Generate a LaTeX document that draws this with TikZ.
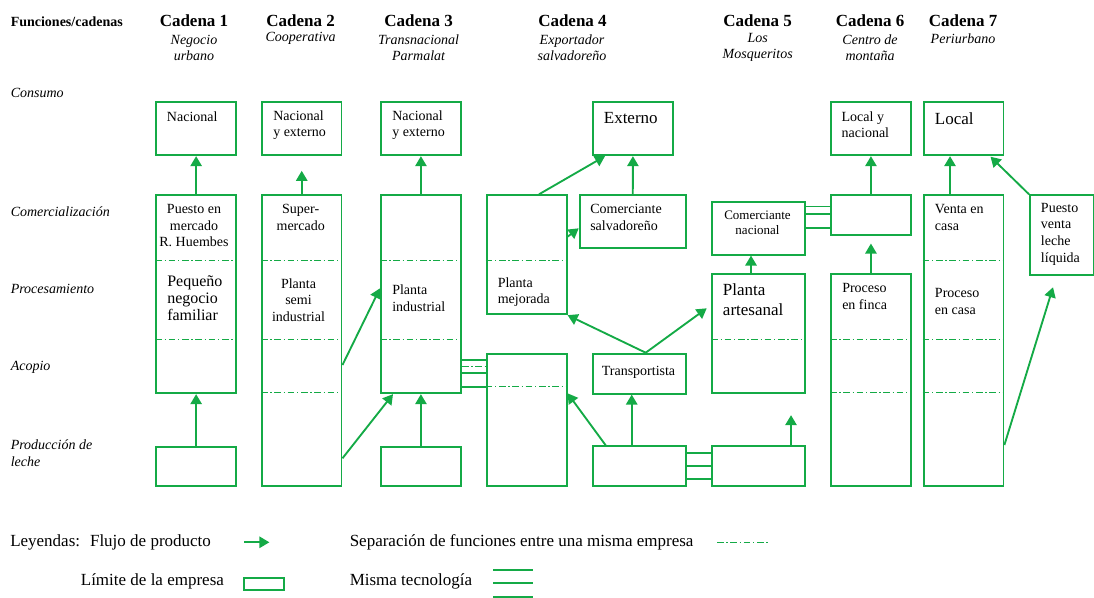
\documentclass[tikz,border=0pt]{standalone}
\usepackage{fontspec}
\setmainfont{Liberation Serif}
\usepackage{tikz}
\usetikzlibrary{positioning,arrows.meta}
\definecolor{verde}{RGB}{20,170,70}

\begin{document}
\begin{tikzpicture}[x=0.75pt,y=-0.75pt,
box/.style 2 args={draw=verde,line width=1.4pt,inner sep=0pt,anchor=north west,minimum width=#1*0.75pt,minimum height=#2*0.75pt},
txt/.style={inner sep=0pt,anchor=west,align=left,font=\fontsize{10.5}{12.5}\selectfont},
ctxt/.style={inner sep=0pt,align=center,font=\fontsize{10.5}{12.5}\selectfont},
big/.style={inner sep=0pt,anchor=west,align=left,font=\fontsize{12.75}{15}\selectfont},
cad/.style={inner sep=0pt,font=\bfseries\fontsize{12.75}{14}\selectfont},
sub/.style={inner sep=0pt,align=center,font=\itshape\fontsize{10.5}{12}\selectfont},
fila/.style={inner sep=0pt,anchor=west,align=left,font=\itshape\fontsize{10.5}{12.5}\selectfont},
leg/.style={inner sep=0pt,anchor=west,font=\fontsize{12.75}{15}\selectfont},
arr/.style={-{Triangle[length=7.5pt,width=8.5pt]},draw=verde,line width=1.4pt},
tec/.style={draw=verde,line width=1.4pt},
sep/.style={draw=verde,line width=0.7pt,dash pattern=on 5pt off 2pt on 1pt off 2pt}]
\useasboundingbox (0,0) rectangle (1094,598);

\node[inner sep=0pt,anchor=west,font=\bfseries\fontsize{10.5}{12.5}\selectfont] (fc) at (10.5,21.3) {Funciones/cadenas};
\node[cad] (k1) at (194,20.7) {Cadena 1};
\node[cad] (k2) at (300.6,20.7) {Cadena 2};
\node[cad] (k3) at (418.6,20.7) {Cadena 3};
\node[cad] (k4) at (572.5,20.7) {Cadena 4};
\node[cad] (k5) at (757.7,20.7) {Cadena 5};
\node[cad] (k6) at (870,20.7) {Cadena 6};
\node[cad] (k7) at (963,20.7) {Cadena 7};
\node[sub] (s1) at (194,47.5) {Negocio\\urbano};
\node[sub] (s2) at (300.6,38.3) {Cooperativa};
\node[sub] (s3) at (418.6,47.5) {Transnacional\\Parmalat};
\node[sub] (s4) at (572,47.5) {Exportador\\salvadoreño};
\node[sub] (s5) at (757.7,47.5) {Los\\Mosqueritos};
\node[sub] (s6) at (870,47.5) {Centro de\\montaña};
\node[sub] (s7) at (963,38.3) {Periurbano};

\node[fila] (f1) at (10.5,93.3) {Consumo};
\node[fila] (f2) at (10.5,211.7) {Comercialización};
\node[fila] (f3) at (10.5,289.3) {Procesamiento};
\node[fila] (f4) at (10.5,367.3) {Acopio};
\node[fila] (f5) at (10.5,453.3) {Producción de\\leche};

\node[box={79.6}{53.3}] (n1) at (155.4,101) {};
\node[box={79.6}{53.3}] (n2) at (261,101) {};
\node[box={80}{53.3}] (n3) at (380,101) {};
\node[box={80}{53.3}] (ext) at (592,101) {};
\node[box={80}{53.3}] (ln) at (830,101) {};
\node[box={79.8}{53.3}] (lo) at (922.7,101) {};
\node[txt] (tn1) at (166.7,116.7) {Nacional};
\node[txt] (tn2) at (273,125) {Nacional\\y externo};
\node[txt] (tn3) at (392,125) {Nacional\\y externo};
\node[big] (text) at (603.6,118.3) {Externo};
\node[txt] (tln) at (841.4,124.7) {Local y\\nacional};
\node[big] (tlo) at (934.7,118.3) {Local};

\node[box={79.6}{198}] (c1) at (155.4,194.3) {};
\node[box={79.6}{291}] (c2) at (261,194.3) {};
\node[box={80}{198}] (c3) at (380,194.3) {};
\node[box={80}{119}] (c4a) at (485.7,194.3) {};
\node[box={106.3}{52.7}] (cs) at (578.7,194.3) {};
\node[box={80}{132}] (c4b) at (485.7,353.3) {};
\node[box={93}{40}] (tr) at (592,352.7) {};
\node[box={92.6}{52.7}] (cn) at (711.4,201) {};
\node[box={92.6}{119}] (ar) at (711.4,273.3) {};
\node[box={80}{39.4}] (c6a) at (830,194.3) {};
\node[box={80}{212}] (c6) at (830,273.3) {};
\node[box={79.8}{291}] (c7) at (922.7,194.3) {};
\node[box={64}{79.4}] (pv) at (1029,194.3) {};
\node[box={79.6}{39.6}] (p1) at (155.4,445.7) {};
\node[box={80}{39.6}] (p3) at (380,445.7) {};
\node[box={93}{39.7}] (p4) at (592,445.3) {};
\node[box={92.6}{40}] (p5) at (711.4,445.3) {};

\node[ctxt] (tc1) at (194,225.8) {Puesto en\\mercado\\R. Huembes};
\node[inner sep=0pt,anchor=west,align=left,font=\fontsize{12}{13}\selectfont] (tc1b) at (167,298.2) {Pequeño\\negocio\\familiar};
\node[ctxt] (tc2) at (300.7,217.3) {Super-\\mercado};
\node[ctxt] (tc2b) at (298.5,300) {Planta\\semi\\industrial};
\node[txt] (tc3) at (392,298.3) {Planta\\industrial};
\node[txt] (tc4) at (497.5,292) {Planta\\mejorada};
\node[txt] (tcs) at (590,217.3) {Comerciante\\salvadoreño};
\node[ctxt] (ttr) at (638.5,372.3) {Transportista};
\node[inner sep=0pt,align=center,font=\fontsize{9.75}{11.25}\selectfont] (tcn) at (757.5,222.5) {Comerciante\\nacional};
\node[big] (tar) at (722.7,300) {Planta\\artesanal};
\node[txt] (tc6) at (842,296.7) {Proceso\\en finca};
\node[txt] (tc7) at (934.7,217.3) {Venta en\\casa};
\node[txt] (tc7b) at (934.7,301.7) {Proceso\\en casa};
\node[txt] (tpv) at (1040.7,234) {Puesto\\venta\\leche\\líquida};

\draw[sep] (c1.west |- 0,260.7) -- (c1.east |- 0,260.7);
\draw[sep] (c1.west |- 0,339.3) -- (c1.east |- 0,339.3);
\draw[sep] (c2.west |- 0,260.7) -- (c2.east |- 0,260.7);
\draw[sep] (c2.west |- 0,339.3) -- (c2.east |- 0,339.3);
\draw[sep] (c2.west |- 0,392.3) -- (c2.east |- 0,392.3);
\draw[sep] (c3.west |- 0,260.7) -- (c3.east |- 0,260.7);
\draw[sep] (c3.west |- 0,339.3) -- (c3.east |- 0,339.3);
\draw[sep] (c4a.west |- 0,260.5) -- (c4a.east |- 0,260.5);
\draw[sep] (c4b.west |- 0,386.7) -- (c4b.east |- 0,386.7);
\draw[sep] (ar.west |- 0,339.3) -- (ar.east |- 0,339.3);
\draw[sep] (c6.west |- 0,339.3) -- (c6.east |- 0,339.3);
\draw[sep] (c6.west |- 0,392.3) -- (c6.east |- 0,392.3);
\draw[sep] (c7.west |- 0,260.7) -- (c7.east |- 0,260.7);
\draw[sep] (c7.west |- 0,339.3) -- (c7.east |- 0,339.3);
\draw[sep] (c7.west |- 0,392.3) -- (c7.east |- 0,392.3);

\draw[tec] (c3.east |- 0,360) -- (c4b.west |- 0,360);
\draw[sep] (c3.east |- 0,366.7) -- (c4b.west |- 0,366.7);
\draw[tec] (c3.east |- 0,373.3) -- (c4b.west |- 0,373.3);
\draw[tec] (c3.east |- 0,386.7) -- (c4b.west |- 0,386.7);
\draw[tec] (p4.east |- 0,452.7) -- (p5.west |- 0,452.7);
\draw[tec] (p4.east |- 0,466) -- (p5.west |- 0,466);
\draw[tec] (p4.east |- 0,479) -- (p5.west |- 0,479);
\draw[tec] (cn.east |- 0,206.5) -- (c6a.west |- 0,206.5);
\draw[tec] (cn.east |- 0,214) -- (c6a.west |- 0,214);
\draw[tec] (cn.east |- 0,227.7) -- (c6a.west |- 0,227.7);

\draw[arr] (p1.north) -- (c1.south);
\draw[arr] (c1.north) -- (n1.south);
\draw[arr,shorten >=11pt] (c2.north) -- (n2.south);
\draw[arr] (c3.north) -- (n3.south);
\draw[arr] (c2.east |- 0,365) -- (c3.west |- 0,288.3);
\draw[arr] (c2.east |- 0,458.3) -- (393,0 |- c3.south);
\draw[arr] (p3.north) -- (c3.south);
\draw[arr] (539,0 |- c4a.north) -- (605,0 |- ext.south);
\draw[arr] (c4a.east |- 0,236.7) -- (cs.west |- 0,228.3);
\draw[arr] (cs.north) -- (ext.south);
\draw[arr] (605.7,0 |- p4.north) -- (c4b.east |- 0,393.3);
\draw[arr] (631.7,0 |- p4.north) -- (631.7,0 |- tr.south);
\draw[arr] (645.7,0 |- tr.north) -- (c4a.south east);
\draw[arr] (645.7,0 |- tr.north) -- (706.7,308.3);
\draw[arr] (751,0 |- ar.north) -- (751,0 |- cn.south);
\draw[arr,shorten >=15.75pt] (791,0 |- p5.north) -- (791,0 |- ar.south);
\draw[arr,shorten >=6pt] (c6.north) -- (c6a.south);
\draw[arr] (c6a.north) -- (ln.south);
\draw[arr] (950,0 |- c7.north) -- (950,0 |- lo.south);
\draw[arr] (pv.north west) -- (990.5,156.7);
\draw[arr] (c7.east |- 0,445) -- (1053,287.3);

\node[leg] (l1) at (10,542.3) {Leyendas:~ Flujo de producto};
\coordinate (la) at (244,542.3);
\coordinate (lb) at (269.4,542.3);
\draw[arr] (la) -- (lb);
\node[leg] (l2) at (349.5,542.3) {Separación de funciones entre una misma empresa};
\coordinate (lc) at (717,542.3);
\coordinate (ld) at (768,542.3);
\draw[sep] (lc) -- (ld);
\node[leg] (l3) at (80.6,581.7) {Límite de la empresa};
\node[box={39.6}{12.3}] (lbox) at (243.4,576.7) {};
\node[leg] (l4) at (349.5,581.7) {Misma tecnología};
\draw[tec] (493,570) -- (533,570);
\draw[tec] (493,583.3) -- (533,583.3);
\draw[tec] (493,596.7) -- (533,596.7);
\end{tikzpicture}
\end{document}
